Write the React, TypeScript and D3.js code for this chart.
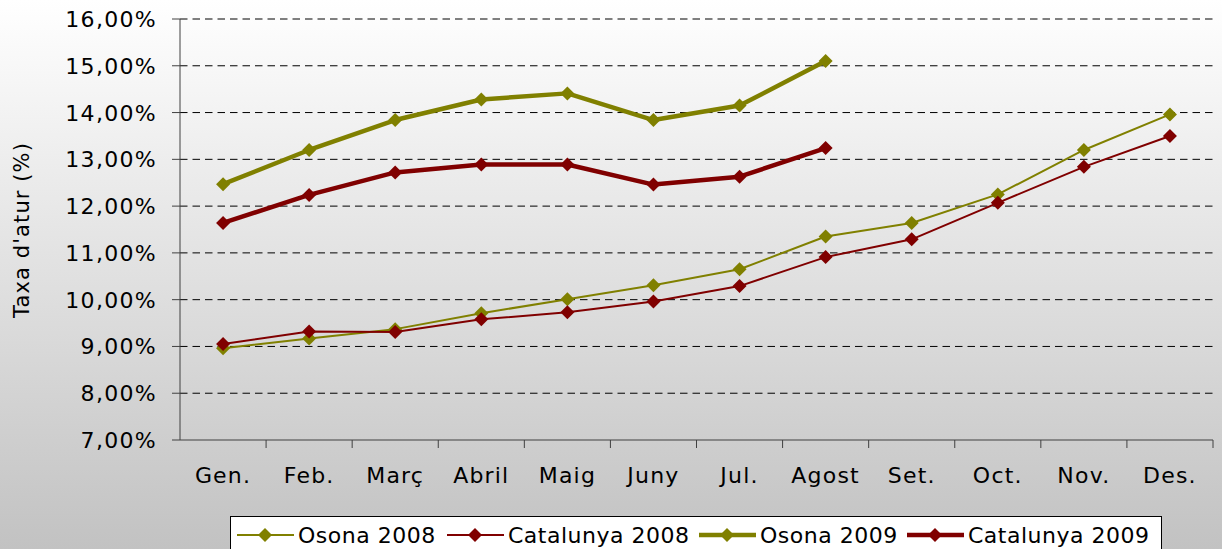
import * as d3 from 'd3';

const MONTHS = ['Gen.', 'Feb.', 'Març', 'Abril', 'Maig', 'Juny', 'Jul.', 'Agost', 'Set.', 'Oct.', 'Nov.', 'Des.'];
const OSONA_2008 = [8.96, 9.17, 9.37, 9.71, 10.01, 10.31, 10.65, 11.35, 11.64, 12.25, 13.2, 13.96];
const CATALUNYA_2008 = [9.05, 9.32, 9.31, 9.58, 9.73, 9.96, 10.29, 10.91, 11.29, 12.07, 12.84, 13.5];
const OSONA_2009 = [12.47, 13.2, 13.84, 14.28, 14.41, 13.84, 14.15, 15.1];
const CATALUNYA_2009 = [11.64, 12.24, 12.72, 12.89, 12.89, 12.46, 12.63, 13.24];
const Y_TICKS = [7, 8, 9, 10, 11, 12, 13, 14, 15, 16];

const SERIES = [
  { name: 'Osona 2008', values: OSONA_2008, color: '#808000', width: 2, legendX: 237 },
  { name: 'Catalunya 2008', values: CATALUNYA_2008, color: '#800000', width: 2, legendX: 447 },
  { name: 'Osona 2009', values: OSONA_2009, color: '#808000', width: 4.5, legendX: 699 },
  { name: 'Catalunya 2009', values: CATALUNYA_2009, color: '#800000', width: 4.5, legendX: 907 },
];

const W = 1222, H = 549;
const L = 180, R = 1213, T = 19, B = 440;
const FONT = '"DejaVu Sans", Verdana, sans-serif';

const fmt = (v: number) => v.toFixed(2).replace('.', ',') + '%';

function Diamond({ cx, cy, color }: { cx: number; cy: number; color: string }) {
  const r = 7;
  return <path d={`M${cx},${cy - r}L${cx + r},${cy}L${cx},${cy + r}L${cx - r},${cy}Z`} fill={color} />;
}

export default function App() {
  const x = d3.scaleBand<string>().domain(MONTHS).range([L, R]);
  const y = d3.scaleLinear().domain([7, 16]).range([B, T]);
  const cx = (i: number) => x(MONTHS[i])! + x.bandwidth() / 2;
  const line = d3.line<number>().x((_, i) => cx(i)).y(v => y(v));

  return (
    <div style={{ position: 'absolute', left: 0, top: 0 }}>
      <svg width={W} height={H} style={{ display: 'block' }} fontFamily={FONT}>
        <defs>
          <linearGradient id="bg" x1="0" y1="0" x2="0" y2="1">
            <stop offset="0" stopColor="#ffffff" />
            <stop offset="1" stopColor="#c2c2c2" />
          </linearGradient>
        </defs>
        <rect x={0} y={0} width={W} height={H} fill="url(#bg)" />

        {/* gridlines */}
        {Y_TICKS.filter(t => t > 7).map(t => (
          <line key={t} x1={L} x2={R} y1={y(t)} y2={y(t)} stroke="#000" strokeWidth={1} strokeDasharray="7.5 5" />
        ))}

        {/* axes */}
        <line x1={L} x2={L} y1={T} y2={B} stroke="#404040" />
        <line x1={L} x2={R} y1={B} y2={B} stroke="#404040" />
        {Y_TICKS.map(t => (
          <g key={t}>
            <line x1={L - 8} x2={L} y1={y(t)} y2={y(t)} stroke="#404040" />
            <text x={157} y={y(t) + 8} textAnchor="end" fontSize={22} letterSpacing={1.3} fill="#000">{fmt(t)}</text>
          </g>
        ))}
        {MONTHS.map((m, i) => (
          <g key={m}>
            <line x1={x(m)! + x.bandwidth()} x2={x(m)! + x.bandwidth()} y1={B} y2={B + 8} stroke="#404040" />
            <text x={cx(i)} y={483} textAnchor="middle" fontSize={22} letterSpacing={1.2} fill="#000">{m}</text>
          </g>
        ))}
        <text transform="translate(29,230) rotate(-90)" textAnchor="middle" fontSize={21} letterSpacing={1.1} fill="#000">Taxa d'atur (%)</text>

        {/* series */}
        {SERIES.map(s => (
          <g key={s.name}>
            <path d={line(s.values) ?? ''} fill="none" stroke={s.color} strokeWidth={s.width} strokeLinejoin="round" />
            {s.values.map((v, i) => <Diamond key={i} cx={cx(i)} cy={y(v)} color={s.color} />)}
          </g>
        ))}

        {/* legend */}
        <rect x={230.5} y={516.5} width={931} height={40} fill="#fff" stroke="#000" />
        {SERIES.map(s => (
          <g key={'lg-' + s.name}>
            <line x1={s.legendX} x2={s.legendX + 57} y1={535} y2={535} stroke={s.color} strokeWidth={s.width} />
            <Diamond cx={s.legendX + 28} cy={535} color={s.color} />
            <text x={s.legendX + 61} y={543} fontSize={22} letterSpacing={0.5} fill="#000">{s.name}</text>
          </g>
        ))}
      </svg>
    </div>
  );
}
